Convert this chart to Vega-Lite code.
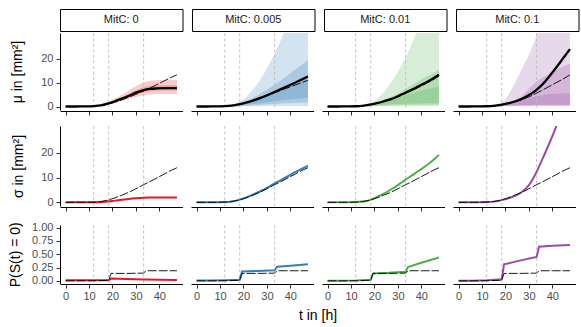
{
  "$schema": "https://vega.github.io/schema/vega-lite/v6.json",
  "padding": {"left": 8, "top": 8, "right": 5, "bottom": 2},
  "config": {
    "font": "Liberation Sans",
    "view": {"stroke": null},
    "axis": {"grid": false, "domainColor": "black", "domainWidth": 1, "tickColor": "#333333", "tickWidth": 1, "tickSize": 4, "tickCount": 10, "labelColor": "#4D4D4D", "labelFontSize": 11, "labelPadding": 3, "labelOverlap": false, "titleFontSize": 14, "titleFontWeight": "normal", "titleColor": "black"},
    "axisX": {"labelPadding": 2},
    "header": {"labelFontSize": 11}
  },
  "spacing": 9,
  "vconcat": [
    {
      "spacing": 0,
      "vconcat": [
        {
          "data": {"values": [
            {"m": "0", "label": "MitC: 0"},
            {"m": "0.005", "label": "MitC: 0.005"},
            {"m": "0.01", "label": "MitC: 0.01"},
            {"m": "0.1", "label": "MitC: 0.1"}
          ]},
          "facet": {"column": {"field": "m", "type": "nominal", "header": {"title": null, "labels": false}}},
          "spacing": {"column": 8},
          "spec": {
            "width": 122.5, "height": 22,
            "view": {"stroke": "black", "strokeWidth": 1, "fill": "white"},
            "mark": {"type": "text", "fontSize": 11, "color": "#1A1A1A"},
            "encoding": {"text": {"field": "label", "type": "nominal"}}
          }
        },
        {
          "data": {"values": [
            {"m":"0","t":0,"mean":0,"model":0,"lo1":0,"hi1":0.05,"lo2":0,"hi2":0.02},
            {"m":"0","t":3,"mean":0,"model":0,"lo1":0,"hi1":0.05,"lo2":0,"hi2":0.02},
            {"m":"0","t":6,"mean":0.02,"model":0.02,"lo1":0,"hi1":0.08,"lo2":0.01,"hi2":0.04},
            {"m":"0","t":9,"mean":0.05,"model":0.05,"lo1":0.02,"hi1":0.12,"lo2":0.04,"hi2":0.08},
            {"m":"0","t":12,"mean":0.15,"model":0.15,"lo1":0.08,"hi1":0.3,"lo2":0.12,"hi2":0.22},
            {"m":"0","t":15,"mean":0.45,"model":0.4,"lo1":0.3,"hi1":0.75,"lo2":0.38,"hi2":0.55},
            {"m":"0","t":18,"mean":1.2,"model":1.0,"lo1":0.8,"hi1":1.9,"lo2":1.0,"hi2":1.5},
            {"m":"0","t":21,"mean":2.2,"model":1.8,"lo1":1.5,"hi1":3.3,"lo2":1.9,"hi2":2.7},
            {"m":"0","t":24,"mean":3.3,"model":2.8,"lo1":2.3,"hi1":4.9,"lo2":2.8,"hi2":3.9},
            {"m":"0","t":27,"mean":4.5,"model":3.9,"lo1":3.2,"hi1":6.7,"lo2":3.9,"hi2":5.3},
            {"m":"0","t":30,"mean":5.8,"model":5.1,"lo1":4.0,"hi1":8.5,"lo2":5.0,"hi2":6.8},
            {"m":"0","t":33,"mean":6.8,"model":6.4,"lo1":4.5,"hi1":10.0,"lo2":5.9,"hi2":8.0},
            {"m":"0","t":36,"mean":7.4,"model":7.8,"lo1":5.0,"hi1":10.8,"lo2":6.4,"hi2":8.6},
            {"m":"0","t":39,"mean":7.6,"model":9.2,"lo1":5.2,"hi1":11.0,"lo2":6.6,"hi2":8.8},
            {"m":"0","t":42,"mean":7.7,"model":10.7,"lo1":5.3,"hi1":11.1,"lo2":6.7,"hi2":8.9},
            {"m":"0","t":45,"mean":7.7,"model":12.2,"lo1":5.3,"hi1":11.2,"lo2":6.7,"hi2":8.9},
            {"m":"0","t":47.5,"mean":7.7,"model":13.3,"lo1":5.3,"hi1":11.2,"lo2":6.7,"hi2":8.9},

            {"m":"0.005","t":0,"mean":0,"model":0,"lo1":0,"hi1":0.05,"lo2":0,"hi2":0.03,"lo3":0,"hi3":0.02},
            {"m":"0.005","t":3,"mean":0,"model":0,"lo1":0,"hi1":0.05,"lo2":0,"hi2":0.03,"lo3":0,"hi3":0.02},
            {"m":"0.005","t":6,"mean":0.02,"model":0.02,"lo1":0,"hi1":0.1,"lo2":0,"hi2":0.06,"lo3":0.01,"hi3":0.04},
            {"m":"0.005","t":9,"mean":0.05,"model":0.05,"lo1":0,"hi1":0.2,"lo2":0.01,"hi2":0.12,"lo3":0.03,"hi3":0.08},
            {"m":"0.005","t":12,"mean":0.15,"model":0.14,"lo1":0,"hi1":0.45,"lo2":0.03,"hi2":0.3,"lo3":0.08,"hi3":0.22},
            {"m":"0.005","t":15,"mean":0.4,"model":0.38,"lo1":0.02,"hi1":1.0,"lo2":0.1,"hi2":0.7,"lo3":0.2,"hi3":0.5},
            {"m":"0.005","t":18,"mean":0.9,"model":0.85,"lo1":0.05,"hi1":1.9,"lo2":0.2,"hi2":1.3,"lo3":0.4,"hi3":1.0},
            {"m":"0.005","t":21,"mean":1.6,"model":1.5,"lo1":0.08,"hi1":3.8,"lo2":0.35,"hi2":2.3,"lo3":0.7,"hi3":1.7},
            {"m":"0.005","t":24,"mean":2.5,"model":2.3,"lo1":0.1,"hi1":7.0,"lo2":0.5,"hi2":3.6,"lo3":1.0,"hi3":2.6},
            {"m":"0.005","t":27,"mean":3.5,"model":3.3,"lo1":0.12,"hi1":11.0,"lo2":0.7,"hi2":5.2,"lo3":1.4,"hi3":3.6},
            {"m":"0.005","t":30,"mean":4.7,"model":4.4,"lo1":0.15,"hi1":16.0,"lo2":0.9,"hi2":7.0,"lo3":1.8,"hi3":4.7},
            {"m":"0.005","t":33,"mean":6.0,"model":5.6,"lo1":0.18,"hi1":21.5,"lo2":1.1,"hi2":9.0,"lo3":2.2,"hi3":5.9},
            {"m":"0.005","t":36,"mean":7.3,"model":6.8,"lo1":0.2,"hi1":28.0,"lo2":1.3,"hi2":11.0,"lo3":2.6,"hi3":7.0},
            {"m":"0.005","t":39,"mean":8.6,"model":7.9,"lo1":0.22,"hi1":35.0,"lo2":1.4,"hi2":13.2,"lo3":2.9,"hi3":8.2},
            {"m":"0.005","t":42,"mean":10.0,"model":9.0,"lo1":0.24,"hi1":42.0,"lo2":1.5,"hi2":15.4,"lo3":3.2,"hi3":9.4},
            {"m":"0.005","t":45,"mean":11.4,"model":10.1,"lo1":0.25,"hi1":49.0,"lo2":1.6,"hi2":17.6,"lo3":3.5,"hi3":10.5},
            {"m":"0.005","t":47.5,"mean":12.6,"model":11.0,"lo1":0.26,"hi1":55.0,"lo2":1.7,"hi2":19.5,"lo3":3.7,"hi3":11.5},

            {"m":"0.01","t":0,"mean":0,"model":0,"lo1":0,"hi1":0.05,"lo2":0,"hi2":0.03,"lo3":0,"hi3":0.02},
            {"m":"0.01","t":3,"mean":0,"model":0,"lo1":0,"hi1":0.05,"lo2":0,"hi2":0.03,"lo3":0,"hi3":0.02},
            {"m":"0.01","t":6,"mean":0.02,"model":0.02,"lo1":0,"hi1":0.08,"lo2":0,"hi2":0.05,"lo3":0.01,"hi3":0.03},
            {"m":"0.01","t":9,"mean":0.04,"model":0.04,"lo1":0,"hi1":0.15,"lo2":0.01,"hi2":0.1,"lo3":0.02,"hi3":0.06},
            {"m":"0.01","t":12,"mean":0.1,"model":0.1,"lo1":0,"hi1":0.35,"lo2":0.02,"hi2":0.22,"lo3":0.05,"hi3":0.15},
            {"m":"0.01","t":15,"mean":0.3,"model":0.28,"lo1":0.02,"hi1":0.8,"lo2":0.06,"hi2":0.5,"lo3":0.12,"hi3":0.4},
            {"m":"0.01","t":18,"mean":0.8,"model":0.75,"lo1":0.04,"hi1":1.5,"lo2":0.15,"hi2":1.0,"lo3":0.3,"hi3":0.8},
            {"m":"0.01","t":21,"mean":1.4,"model":1.3,"lo1":0.06,"hi1":3.2,"lo2":0.25,"hi2":1.8,"lo3":0.5,"hi3":1.3},
            {"m":"0.01","t":24,"mean":2.2,"model":2.0,"lo1":0.08,"hi1":6.0,"lo2":0.35,"hi2":2.8,"lo3":0.7,"hi3":2.0},
            {"m":"0.01","t":27,"mean":3.1,"model":2.9,"lo1":0.1,"hi1":10.0,"lo2":0.45,"hi2":4.0,"lo3":0.9,"hi3":2.8},
            {"m":"0.01","t":30,"mean":4.3,"model":4.0,"lo1":0.12,"hi1":14.5,"lo2":0.55,"hi2":5.5,"lo3":1.0,"hi3":3.6},
            {"m":"0.01","t":33,"mean":5.7,"model":5.4,"lo1":0.14,"hi1":20.0,"lo2":0.6,"hi2":7.3,"lo3":1.1,"hi3":4.6},
            {"m":"0.01","t":36,"mean":7.1,"model":6.7,"lo1":0.15,"hi1":26.5,"lo2":0.65,"hi2":9.0,"lo3":1.2,"hi3":5.5},
            {"m":"0.01","t":39,"mean":8.6,"model":8.1,"lo1":0.16,"hi1":33.5,"lo2":0.7,"hi2":10.8,"lo3":1.3,"hi3":6.4},
            {"m":"0.01","t":42,"mean":10.1,"model":9.6,"lo1":0.17,"hi1":40.5,"lo2":0.72,"hi2":12.5,"lo3":1.35,"hi3":7.2},
            {"m":"0.01","t":45,"mean":11.8,"model":11.2,"lo1":0.18,"hi1":47.5,"lo2":0.74,"hi2":14.1,"lo3":1.4,"hi3":7.9},
            {"m":"0.01","t":47.5,"mean":13.3,"model":12.7,"lo1":0.19,"hi1":53.0,"lo2":0.75,"hi2":15.5,"lo3":1.4,"hi3":8.5},

            {"m":"0.1","t":0,"mean":0,"model":0,"lo1":0,"hi1":0.05,"lo2":0,"hi2":0.03,"lo3":0,"hi3":0.02},
            {"m":"0.1","t":3,"mean":0,"model":0,"lo1":0,"hi1":0.05,"lo2":0,"hi2":0.03,"lo3":0,"hi3":0.02},
            {"m":"0.1","t":6,"mean":0.02,"model":0.02,"lo1":0,"hi1":0.08,"lo2":0,"hi2":0.05,"lo3":0.01,"hi3":0.03},
            {"m":"0.1","t":9,"mean":0.04,"model":0.04,"lo1":0,"hi1":0.15,"lo2":0.01,"hi2":0.1,"lo3":0.02,"hi3":0.06},
            {"m":"0.1","t":12,"mean":0.1,"model":0.1,"lo1":0,"hi1":0.35,"lo2":0.02,"hi2":0.22,"lo3":0.05,"hi3":0.15},
            {"m":"0.1","t":15,"mean":0.3,"model":0.3,"lo1":0.02,"hi1":0.8,"lo2":0.06,"hi2":0.5,"lo3":0.12,"hi3":0.35},
            {"m":"0.1","t":18,"mean":0.7,"model":0.7,"lo1":0.04,"hi1":1.5,"lo2":0.12,"hi2":0.9,"lo3":0.25,"hi3":0.6},
            {"m":"0.1","t":21,"mean":1.3,"model":1.3,"lo1":0.06,"hi1":4.5,"lo2":0.2,"hi2":1.6,"lo3":0.4,"hi3":1.1},
            {"m":"0.1","t":24,"mean":2.1,"model":2.0,"lo1":0.08,"hi1":10.0,"lo2":0.25,"hi2":2.6,"lo3":0.5,"hi3":1.8},
            {"m":"0.1","t":27,"mean":3.2,"model":2.9,"lo1":0.1,"hi1":15.8,"lo2":0.3,"hi2":4.5,"lo3":0.6,"hi3":2.6},
            {"m":"0.1","t":30,"mean":4.8,"model":4.0,"lo1":0.12,"hi1":21.7,"lo2":0.35,"hi2":7.5,"lo3":0.65,"hi3":3.4},
            {"m":"0.1","t":33,"mean":6.8,"model":5.5,"lo1":0.14,"hi1":29.0,"lo2":0.38,"hi2":10.3,"lo3":0.7,"hi3":4.2},
            {"m":"0.1","t":36,"mean":9.5,"model":7.0,"lo1":0.15,"hi1":36.0,"lo2":0.4,"hi2":12.3,"lo3":0.72,"hi3":4.8},
            {"m":"0.1","t":39,"mean":13.0,"model":8.6,"lo1":0.16,"hi1":43.0,"lo2":0.42,"hi2":14.0,"lo3":0.74,"hi3":5.2},
            {"m":"0.1","t":42,"mean":16.8,"model":10.2,"lo1":0.17,"hi1":50.0,"lo2":0.44,"hi2":15.5,"lo3":0.75,"hi3":5.4},
            {"m":"0.1","t":45,"mean":20.8,"model":11.8,"lo1":0.18,"hi1":57.0,"lo2":0.45,"hi2":17.0,"lo3":0.76,"hi3":5.5},
            {"m":"0.1","t":47.5,"mean":24.1,"model":13.3,"lo1":0.19,"hi1":63.0,"lo2":0.46,"hi2":18.2,"lo3":0.77,"hi3":5.6},

            {"m":"0","vl":12},{"m":"0","vl":18.4},{"m":"0","vl":33.3},
            {"m":"0.005","vl":12},{"m":"0.005","vl":18.4},{"m":"0.005","vl":33.3},
            {"m":"0.01","vl":12},{"m":"0.01","vl":18.4},{"m":"0.01","vl":33.3},
            {"m":"0.1","vl":12},{"m":"0.1","vl":18.4},{"m":"0.1","vl":33.3}
          ]},
          "facet": {"column": {"field": "m", "type": "nominal", "header": {"title": null, "labels": false}}},
          "spacing": {"column": 8},
          "spec": {
            "width": 122.5, "height": 77,
            "encoding": {
              "x": {"field": "t", "type": "quantitative", "scale": {"domain": [-2.375, 49.875], "nice": false, "zero": false}, "axis": {"title": null, "labels": false, "values": [0, 10, 20, 30, 40], "tickCount": 10}},
              "color": {"field": "m", "type": "nominal", "scale": {"domain": ["0", "0.005", "0.01", "0.1"], "range": ["#E41A1C", "#377EB8", "#4DAF4A", "#984EA3"]}, "legend": null}
            },
            "layer": [
              {"transform": [{"filter": "isValid(datum.lo1)"}], "mark": {"type": "area", "clip": true, "opacity": 0.22, "interpolate": "monotone"},
               "encoding": {"y": {"field": "lo1", "type": "quantitative", "scale": {"domain": [-1.47, 30.87], "nice": false, "zero": false}, "axis": {"title": "μ in [mm²]", "values": [0, 10, 20], "tickCount": 10, "titlePadding": 16}}, "y2": {"field": "hi1"}}},
              {"transform": [{"filter": "isValid(datum.lo2)"}], "mark": {"type": "area", "clip": true, "opacity": 0.25, "interpolate": "monotone"},
               "encoding": {"y": {"field": "lo2", "type": "quantitative"}, "y2": {"field": "hi2"}}},
              {"transform": [{"filter": "isValid(datum.lo3)"}], "mark": {"type": "area", "clip": true, "opacity": 0.25, "interpolate": "monotone"},
               "encoding": {"y": {"field": "lo3", "type": "quantitative"}, "y2": {"field": "hi3"}}},
              {"transform": [{"filter": "isValid(datum.vl)"}], "mark": {"type": "rule", "color": "#BEBEBE", "strokeWidth": 0.9, "strokeDash": [3, 2.5]},
               "encoding": {"x": {"field": "vl", "type": "quantitative"}, "color": {"value": "#BEBEBE"}}},
              {"transform": [{"filter": "isValid(datum.mean)"}], "mark": {"type": "line", "clip": true, "strokeWidth": 2.3, "interpolate": "monotone"},
               "encoding": {"y": {"field": "mean", "type": "quantitative"}, "color": {"value": "black"}}},
              {"transform": [{"filter": "isValid(datum.model)"}], "mark": {"type": "line", "clip": true, "strokeWidth": 0.9, "strokeDash": [9, 2], "interpolate": "monotone"},
               "encoding": {"y": {"field": "model", "type": "quantitative"}, "color": {"value": "black"}}}
            ]
          }
        }
      ]
    },
    {
      "data": {"values": [
        {"m":"0","t":0,"v":0,"model":0},{"m":"0","t":3,"v":0,"model":0},{"m":"0","t":6,"v":0.01,"model":0.01},{"m":"0","t":9,"v":0.02,"model":0.03},
        {"m":"0","t":12,"v":0.05,"model":0.1},{"m":"0","t":15,"v":0.15,"model":0.35},{"m":"0","t":18,"v":0.35,"model":0.9},{"m":"0","t":21,"v":0.7,"model":1.8},
        {"m":"0","t":24,"v":1.05,"model":2.9},{"m":"0","t":27,"v":1.4,"model":4.1},{"m":"0","t":30,"v":1.65,"model":5.5},{"m":"0","t":33,"v":1.85,"model":7.0},
        {"m":"0","t":36,"v":1.95,"model":8.4},{"m":"0","t":39,"v":2.0,"model":9.9},{"m":"0","t":42,"v":2.0,"model":11.4},{"m":"0","t":45,"v":2.0,"model":12.9},{"m":"0","t":47.5,"v":2.0,"model":14.0},

        {"m":"0.005","t":0,"v":0,"model":0},{"m":"0.005","t":3,"v":0,"model":0},{"m":"0.005","t":6,"v":0.01,"model":0.01},{"m":"0.005","t":9,"v":0.03,"model":0.03},
        {"m":"0.005","t":12,"v":0.1,"model":0.1},{"m":"0.005","t":15,"v":0.38,"model":0.35},{"m":"0.005","t":18,"v":1.0,"model":0.9},{"m":"0.005","t":21,"v":1.9,"model":1.8},
        {"m":"0.005","t":24,"v":3.1,"model":2.9},{"m":"0.005","t":27,"v":4.4,"model":4.1},{"m":"0.005","t":30,"v":5.9,"model":5.5},{"m":"0.005","t":33,"v":7.5,"model":7.0},
        {"m":"0.005","t":36,"v":9.0,"model":8.4},{"m":"0.005","t":39,"v":10.6,"model":9.9},{"m":"0.005","t":42,"v":12.2,"model":11.4},{"m":"0.005","t":45,"v":13.6,"model":12.9},{"m":"0.005","t":47.5,"v":14.8,"model":14.0},

        {"m":"0.01","t":0,"v":0,"model":0},{"m":"0.01","t":3,"v":0,"model":0},{"m":"0.01","t":6,"v":0.01,"model":0.01},{"m":"0.01","t":9,"v":0.03,"model":0.03},
        {"m":"0.01","t":12,"v":0.1,"model":0.1},{"m":"0.01","t":15,"v":0.35,"model":0.35},{"m":"0.01","t":18,"v":0.9,"model":0.9},{"m":"0.01","t":21,"v":2.2,"model":1.8},
        {"m":"0.01","t":24,"v":3.5,"model":2.9},{"m":"0.01","t":27,"v":5.2,"model":4.1},{"m":"0.01","t":30,"v":7.0,"model":5.5},{"m":"0.01","t":33,"v":9.0,"model":7.0},
        {"m":"0.01","t":36,"v":10.9,"model":8.4},{"m":"0.01","t":39,"v":12.8,"model":9.9},{"m":"0.01","t":42,"v":14.8,"model":11.4},{"m":"0.01","t":45,"v":17.0,"model":12.9},{"m":"0.01","t":47.5,"v":19.2,"model":14.0},

        {"m":"0.1","t":0,"v":0,"model":0},{"m":"0.1","t":3,"v":0,"model":0},{"m":"0.1","t":6,"v":0.01,"model":0.01},{"m":"0.1","t":9,"v":0.03,"model":0.03},
        {"m":"0.1","t":12,"v":0.1,"model":0.1},{"m":"0.1","t":15,"v":0.3,"model":0.35},{"m":"0.1","t":18,"v":0.8,"model":0.9},{"m":"0.1","t":21,"v":1.5,"model":1.8},
        {"m":"0.1","t":24,"v":2.6,"model":2.9},{"m":"0.1","t":27,"v":4.2,"model":4.1},{"m":"0.1","t":30,"v":7.0,"model":5.5},{"m":"0.1","t":33,"v":11.8,"model":7.0},
        {"m":"0.1","t":36,"v":18.0,"model":8.4},{"m":"0.1","t":39,"v":24.5,"model":9.9},{"m":"0.1","t":42,"v":31.5,"model":11.4},{"m":"0.1","t":45,"v":39.0,"model":12.9},{"m":"0.1","t":47.5,"v":46.0,"model":14.0},

        {"m":"0","vl":12},{"m":"0","vl":18.4},{"m":"0","vl":33.3},
        {"m":"0.005","vl":12},{"m":"0.005","vl":18.4},{"m":"0.005","vl":33.3},
        {"m":"0.01","vl":12},{"m":"0.01","vl":18.4},{"m":"0.01","vl":33.3},
        {"m":"0.1","vl":12},{"m":"0.1","vl":18.4},{"m":"0.1","vl":33.3}
      ]},
      "facet": {"column": {"field": "m", "type": "nominal", "header": {"title": null, "labels": false}}},
      "spacing": {"column": 8},
      "spec": {
        "width": 122.5, "height": 80,
        "encoding": {
          "x": {"field": "t", "type": "quantitative", "scale": {"domain": [-2.375, 49.875], "nice": false, "zero": false}, "axis": {"title": null, "labels": false, "values": [0, 10, 20, 30, 40], "tickCount": 10}}
        },
        "layer": [
          {"transform": [{"filter": "isValid(datum.vl)"}], "mark": {"type": "rule", "color": "#BEBEBE", "strokeWidth": 0.9, "strokeDash": [3, 2.5]},
           "encoding": {"x": {"field": "vl", "type": "quantitative"}}},
          {"transform": [{"filter": "isValid(datum.v)"}], "mark": {"type": "line", "clip": true, "strokeWidth": 2, "interpolate": "monotone"},
           "encoding": {"y": {"field": "v", "type": "quantitative", "scale": {"domain": [-1.47, 30.87], "nice": false, "zero": false}, "axis": {"title": "σ in [mm²]", "values": [0, 10, 20], "tickCount": 10, "titlePadding": 15}},
                        "color": {"field": "m", "type": "nominal", "scale": {"domain": ["0", "0.005", "0.01", "0.1"], "range": ["#E41A1C", "#377EB8", "#4DAF4A", "#984EA3"]}, "legend": null}}},
          {"transform": [{"filter": "isValid(datum.model)"}], "mark": {"type": "line", "clip": true, "strokeWidth": 0.9, "strokeDash": [9, 2], "color": "black", "interpolate": "monotone"},
           "encoding": {"y": {"field": "model", "type": "quantitative"}}}
        ]
      }
    },
    {
      "data": {"values": [
        {"m":"0","t":0,"v":0.01,"model":0},{"m":"0","t":6,"v":0.01,"model":0},{"m":"0","t":12,"v":0.01,"model":0.003},{"m":"0","t":18.4,"v":0.01,"model":0.01},
        {"m":"0","t":19.4,"v":0.045,"model":0.14},{"m":"0","t":26,"v":0.035,"model":0.14},{"m":"0","t":33.3,"v":0.025,"model":0.145},{"m":"0","t":34.3,"v":0.025,"model":0.19},
        {"m":"0","t":40,"v":0.02,"model":0.19},{"m":"0","t":47.5,"v":0.015,"model":0.19},

        {"m":"0.005","t":0,"v":0.005,"model":0},{"m":"0.005","t":6,"v":0.005,"model":0},{"m":"0.005","t":12,"v":0.01,"model":0.003},{"m":"0.005","t":18.4,"v":0.02,"model":0.01},
        {"m":"0.005","t":19.4,"v":0.175,"model":0.14},{"m":"0.005","t":26,"v":0.185,"model":0.14},{"m":"0.005","t":33.3,"v":0.2,"model":0.145},{"m":"0.005","t":34.3,"v":0.265,"model":0.19},
        {"m":"0.005","t":40,"v":0.285,"model":0.19},{"m":"0.005","t":47.5,"v":0.31,"model":0.19},

        {"m":"0.01","t":0,"v":0,"model":0},{"m":"0.01","t":6,"v":0,"model":0},{"m":"0.01","t":12,"v":0.005,"model":0.003},{"m":"0.01","t":18.4,"v":0.02,"model":0.01},
        {"m":"0.01","t":19.4,"v":0.14,"model":0.14},{"m":"0.01","t":26,"v":0.15,"model":0.14},{"m":"0.01","t":33.3,"v":0.17,"model":0.145},{"m":"0.01","t":34.3,"v":0.26,"model":0.19},
        {"m":"0.01","t":40,"v":0.34,"model":0.19},{"m":"0.01","t":47.5,"v":0.44,"model":0.19},

        {"m":"0.1","t":0,"v":0,"model":0},{"m":"0.1","t":6,"v":0.003,"model":0},{"m":"0.1","t":12,"v":0.01,"model":0.003},{"m":"0.1","t":18.4,"v":0.03,"model":0.01},
        {"m":"0.1","t":19.4,"v":0.31,"model":0.14},{"m":"0.1","t":26,"v":0.38,"model":0.14},{"m":"0.1","t":33.3,"v":0.45,"model":0.145},{"m":"0.1","t":34.3,"v":0.64,"model":0.19},
        {"m":"0.1","t":40,"v":0.66,"model":0.19},{"m":"0.1","t":47.5,"v":0.675,"model":0.19},

        {"m":"0","vl":12},{"m":"0","vl":18.4},{"m":"0","vl":33.3},
        {"m":"0.005","vl":12},{"m":"0.005","vl":18.4},{"m":"0.005","vl":33.3},
        {"m":"0.01","vl":12},{"m":"0.01","vl":18.4},{"m":"0.01","vl":33.3},
        {"m":"0.1","vl":12},{"m":"0.1","vl":18.4},{"m":"0.1","vl":33.3}
      ]},
      "facet": {"column": {"field": "m", "type": "nominal", "header": {"title": "t in [h]", "titleOrient": "bottom", "labels": false, "titleFontSize": 14, "titleFontWeight": "normal", "titleColor": "black", "titlePadding": -2}}},
      "spacing": {"column": 8},
      "spec": {
        "width": 122.5, "height": 58.5,
        "encoding": {
          "x": {"field": "t", "type": "quantitative", "scale": {"domain": [-2.375, 49.875], "nice": false, "zero": false}, "axis": {"title": null, "values": [0, 10, 20, 30, 40], "tickCount": 10}}
        },
        "layer": [
          {"transform": [{"filter": "isValid(datum.vl)"}], "mark": {"type": "rule", "color": "#BEBEBE", "strokeWidth": 0.9, "strokeDash": [3, 2.5]},
           "encoding": {"x": {"field": "vl", "type": "quantitative"}}},
          {"transform": [{"filter": "isValid(datum.v)"}], "mark": {"type": "line", "clip": true, "strokeWidth": 2},
           "encoding": {"y": {"field": "v", "type": "quantitative", "scale": {"domain": [-0.05, 1.05], "nice": false, "zero": false}, "axis": {"title": "P(S(t) = 0)", "values": [0, 0.25, 0.5, 0.75, 1], "tickCount": 10, "format": ".2f", "titlePadding": 9, "labelOverlap": false}},
                        "color": {"field": "m", "type": "nominal", "scale": {"domain": ["0", "0.005", "0.01", "0.1"], "range": ["#E41A1C", "#377EB8", "#4DAF4A", "#984EA3"]}, "legend": null}}},
          {"transform": [{"filter": "isValid(datum.model)"}], "mark": {"type": "line", "clip": true, "strokeWidth": 0.9, "strokeDash": [9, 2], "color": "black"},
           "encoding": {"y": {"field": "model", "type": "quantitative"}}}
        ]
      }
    }
  ]
}
